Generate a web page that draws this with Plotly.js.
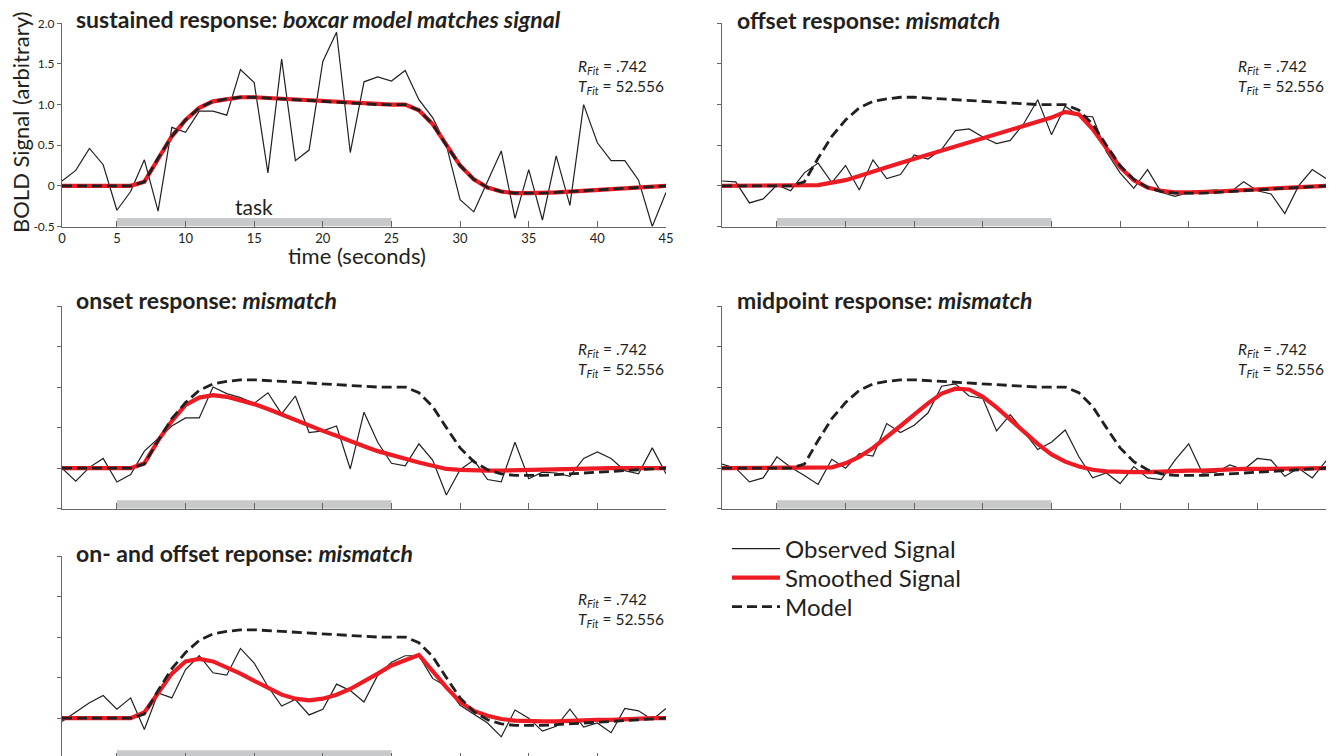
<!DOCTYPE html>
<html><head><meta charset="utf-8">
<script src="https://cdn.plot.ly/plotly-3.0.1.min.js"></script>
<style>html,body{margin:0;padding:0;overflow:hidden;background:#fff}#chart{width:1338px;height:760px}</style>
</head><body><div id="chart"></div>
<script>
// ---------------- data ----------------
const time = [1,2,3,4,5,6,7,8,9,10,11,12,13,14,15,16,17,18,19,20,21,22,23,24,25,26,27,28,29,30,31,32,33,34,35,36,37,38,39,40,41,42,43,44,45];
const xTickVals = [1,5,10,15,20,25,30,35,40,45];
const xTickText = ['0','5','10','15','20','25','30','35','40','45'];
const yTickVals = [-0.5,0,0.5,1,1.5,2];
const yTickText = ['-0.5','0','0.5','1.0','1.5','2.0'];
const taskStart = 5, taskEnd = 25, taskLabel = 'task';

const model = [0,0,0,0,0,0,0.05,0.34,0.61,0.81,0.96,1.04,1.07,1.09,1.09,1.08,1.07,1.06,1.05,1.04,1.03,1.02,1.01,1.00,1.00,1.00,0.93,0.76,0.50,0.25,0.08,-0.02,-0.07,-0.09,-0.09,-0.09,-0.08,-0.07,-0.06,-0.05,-0.04,-0.03,-0.02,-0.01,0.0];

const obsSustained = [0.06,0.19,0.46,0.26,-0.30,-0.07,0.32,-0.31,0.72,0.66,0.92,0.92,0.87,1.43,1.27,0.16,1.56,0.31,0.44,1.53,1.89,0.41,1.28,1.34,1.29,1.42,1.06,0.84,0.50,-0.17,-0.32,0.05,0.43,-0.40,0.20,-0.42,0.37,-0.24,1.00,0.53,0.31,0.31,0.07,-0.50,-0.08];
const smoothSustained = [0,0,0,0,0,0,0.05,0.34,0.61,0.81,0.96,1.04,1.07,1.09,1.09,1.08,1.07,1.06,1.05,1.04,1.03,1.02,1.01,1.00,1.00,1.00,0.93,0.76,0.50,0.25,0.08,-0.02,-0.07,-0.09,-0.09,-0.09,-0.08,-0.07,-0.06,-0.05,-0.04,-0.03,-0.02,-0.01,0.0];

const obsOffset = [0.06,0.05,-0.21,-0.16,0.01,-0.06,0.16,0.28,0.04,0.25,-0.05,0.32,0.09,0.14,0.38,0.33,0.45,0.68,0.70,0.60,0.52,0.56,0.77,1.06,0.63,0.98,0.86,0.85,0.42,0.16,-0.03,0.20,-0.08,-0.13,-0.08,-0.06,-0.05,-0.08,0.05,-0.06,-0.10,-0.34,0.0,0.20,0.09];
const smoothOffset = [0,0,0,0,0,0,0,0.01,0.04,0.07,0.12,0.18,0.23,0.28,0.33,0.38,0.43,0.48,0.53,0.58,0.63,0.68,0.73,0.78,0.84,0.91,0.88,0.70,0.46,0.23,0.07,-0.02,-0.06,-0.08,-0.08,-0.08,-0.07,-0.06,-0.05,-0.04,-0.03,-0.02,-0.01,-0.01,0.0];

const obsOnset = [0.0,-0.16,0.01,0.12,-0.17,-0.08,0.21,0.37,0.52,0.62,0.62,1.00,0.92,0.87,0.80,0.93,0.67,0.89,0.44,0.46,0.52,-0.01,0.69,0.32,0.06,0.03,0.30,0.10,-0.33,-0.02,0.10,-0.14,-0.17,0.32,-0.13,-0.05,-0.06,-0.10,0.12,0.20,0.12,-0.03,-0.07,0.25,-0.07];
const smoothOnset = [0,0,0,0,0,0,0.06,0.34,0.58,0.78,0.87,0.90,0.88,0.84,0.79,0.73,0.66,0.59,0.52,0.46,0.40,0.33,0.27,0.21,0.16,0.11,0.07,0.03,-0.01,-0.02,-0.03,-0.03,-0.03,-0.025,-0.02,-0.02,-0.015,-0.01,-0.01,-0.005,0,0,0,0,0];

const obsMidpoint = [0.05,0.0,-0.17,-0.12,0.14,0.01,-0.09,-0.20,0.11,0.0,0.18,0.15,0.55,0.44,0.53,0.68,1.01,1.04,0.89,0.86,0.46,0.66,0.45,0.23,0.32,0.47,0.14,-0.12,-0.06,-0.19,0.02,-0.12,-0.14,0.10,0.30,-0.06,-0.05,0.04,-0.02,0.12,0.10,-0.10,0.0,-0.12,0.09];
const smoothMidpoint = [0,0,0,0,0,0,0,0,0.01,0.06,0.14,0.25,0.38,0.52,0.66,0.80,0.92,0.98,0.97,0.88,0.75,0.60,0.44,0.30,0.17,0.08,0.02,-0.02,-0.04,-0.05,-0.05,-0.05,-0.04,-0.04,-0.03,-0.03,-0.02,-0.02,-0.01,-0.01,-0.01,0,0,0,0];

const obsOnOffset = [-0.04,0.07,0.19,0.28,0.11,0.25,-0.14,0.31,0.25,0.60,0.77,0.56,0.53,0.86,0.68,0.39,0.15,0.23,0.04,0.11,0.42,0.34,0.20,0.53,0.69,0.77,0.77,0.49,0.39,0.16,0.05,-0.06,-0.23,0.10,0.0,-0.16,-0.10,0.11,-0.11,-0.06,-0.18,0.12,0.09,-0.02,0.12];
const smoothOnOffset = [0,0,0,0,0,0,0.07,0.30,0.55,0.70,0.73,0.70,0.63,0.55,0.46,0.37,0.29,0.24,0.22,0.24,0.29,0.36,0.45,0.55,0.65,0.72,0.78,0.58,0.38,0.20,0.09,0.03,-0.01,-0.03,-0.04,-0.04,-0.04,-0.03,-0.03,-0.02,-0.02,-0.01,-0.01,0,0];

const panelTitles = [
  '<b>sustained response: <i>boxcar model matches signal</i></b>',
  '<b>offset response: <i>mismatch</i></b>',
  '<b>onset response: <i>mismatch</i></b>',
  '<b>midpoint response: <i>mismatch</i></b>',
  '<b>on- and offset reponse: <i>mismatch</i></b>'
];
const observedSeries = [obsSustained, obsOffset, obsOnset, obsMidpoint, obsOnOffset];
const smoothedSeries = [smoothSustained, smoothOffset, smoothOnset, smoothMidpoint, smoothOnOffset];
const fitR = '.742', fitT = '52.556';
const legendNames = ['Observed Signal', 'Smoothed Signal', 'Model'];
const xTitle = 'time (seconds)', yTitle = 'BOLD Signal (arbitrary)';

// ---------------- layout geometry (pixels) ----------------
const W = 1338, H = 760;
const FONT = 'Lato, "Open Sans", sans-serif';
const INK = '#231f20', AXIS = '#666666';
const panels = [
  {x0: 62, x1: 666, top: 23.3, bottom: 226.5, tx: 74, ty: 19},
  {x0: 722, x1: 1326, top: 23.3, bottom: 226.5, tx: 735, ty: 20},
  {x0: 62, x1: 666, top: 306, bottom: 508.7, tx: 74, ty: 300},
  {x0: 722, x1: 1326, top: 306, bottom: 508.7, tx: 735, ty: 300},
  {x0: 62, x1: 666, top: 556, bottom: 758.7, tx: 74, ty: 553}
];
const legendRows = [549, 578, 607];
const px = v => v / W, py = v => 1 - v / H;

const data = [], shapes = [], annotations = [];
const legendIds = ['legend', 'legend2', 'legend3'];
const layout = {
  width: W, height: H, margin: {l: 0, r: 0, t: 0, b: 0},
  paper_bgcolor: '#fff', plot_bgcolor: 'rgba(0,0,0,0)',
  font: {family: FONT, color: INK},
  showlegend: true,
  hovermode: false
};
legendIds.forEach((id, k) => {
  layout[id] = {x: px(727), y: py(legendRows[k]), xanchor: 'left', yanchor: 'middle',
                font: {family: FONT, size: 24, color: INK}, bgcolor: 'rgba(0,0,0,0)',
                itemwidth: 48, borderwidth: 0};
});

panels.forEach((p, i) => {
  const n = i === 0 ? '' : String(i + 1);
  const xa = 'x' + n, ya = 'y' + n;
  const first = i === 0;
  layout['xaxis' + n] = {
    domain: [px(p.x0), px(p.x1)], anchor: ya, range: [1, 45],
    showgrid: false, zeroline: false, showline: true, linecolor: AXIS, linewidth: 1,
    ticks: 'inside', ticklen: 6, tickcolor: AXIS, tickwidth: 1,
    tickmode: 'array', tickvals: xTickVals, ticktext: xTickText,
    showticklabels: first, tickfont: {family: FONT, size: 13, color: INK}
  };
  layout['yaxis' + n] = {
    domain: [py(p.bottom), py(p.top)], anchor: xa, range: [-0.5, 2.0],
    showgrid: false, zeroline: false, showline: true, linecolor: AXIS, linewidth: 1,
    ticks: 'outside', ticklen: 4, tickcolor: AXIS, tickwidth: 1,
    tickmode: 'array', tickvals: yTickVals, ticktext: yTickText,
    showticklabels: first, tickfont: {family: FONT, size: 12, color: INK}
  };
  data.push({x: time, y: observedSeries[i], xaxis: xa, yaxis: ya, type: 'scatter', mode: 'lines',
             name: legendNames[0], legend: legendIds[0], showlegend: first, line: {color: INK, width: 1.2}});
  data.push({x: time, y: smoothedSeries[i], xaxis: xa, yaxis: ya, type: 'scatter', mode: 'lines',
             name: legendNames[1], legend: legendIds[1], showlegend: first, line: {color: '#ed1c24', width: 4.2}});
  data.push({x: time, y: model, xaxis: xa, yaxis: ya, type: 'scatter', mode: 'lines',
             name: legendNames[2], legend: legendIds[2], showlegend: first, line: {color: INK, width: 2.8, dash: '10px,5px'}});
  shapes.push({type: 'rect', xref: xa, yref: ya, x0: taskStart, x1: taskEnd, y0: -0.5, y1: -0.395,
               fillcolor: '#c8c9ca', line: {width: 0}, layer: 'below'});
  annotations.push({xref: 'paper', yref: 'paper', x: px(p.tx), y: py(p.ty), xanchor: 'left', yanchor: 'middle',
                    text: panelTitles[i], showarrow: false, font: {family: FONT, size: 23, color: INK}});
  annotations.push({xref: 'paper', yref: 'paper', x: px(p.x1 - 90), y: py(p.top + 54), xanchor: 'left', yanchor: 'middle',
                    align: 'left', showarrow: false, font: {family: FONT, size: 15.5, color: INK},
                    text: '<i>R<sub>Fit</sub></i> = ' + fitR + '<br><i>T<sub>Fit</sub></i> = ' + fitT});
});

annotations.push({xref: 'x', yref: 'y', x: (taskStart + taskEnd) / 2, y: -0.26, xanchor: 'center', yanchor: 'middle',
                  text: taskLabel, showarrow: false, font: {family: FONT, size: 21, color: INK}});
annotations.push({xref: 'paper', yref: 'paper', x: px(357), y: py(255), xanchor: 'center', yanchor: 'middle',
                  text: xTitle, showarrow: false, font: {family: FONT, size: 22, color: INK}});
annotations.push({xref: 'paper', yref: 'paper', x: px(20), y: py(123), xanchor: 'center', yanchor: 'middle',
                  text: yTitle, showarrow: false, textangle: -90, font: {family: FONT, size: 22, color: INK}});

layout.shapes = shapes;
layout.annotations = annotations;

Plotly.newPlot('chart', data, layout, {staticPlot: true, displayModeBar: false});
</script>
</body></html>
